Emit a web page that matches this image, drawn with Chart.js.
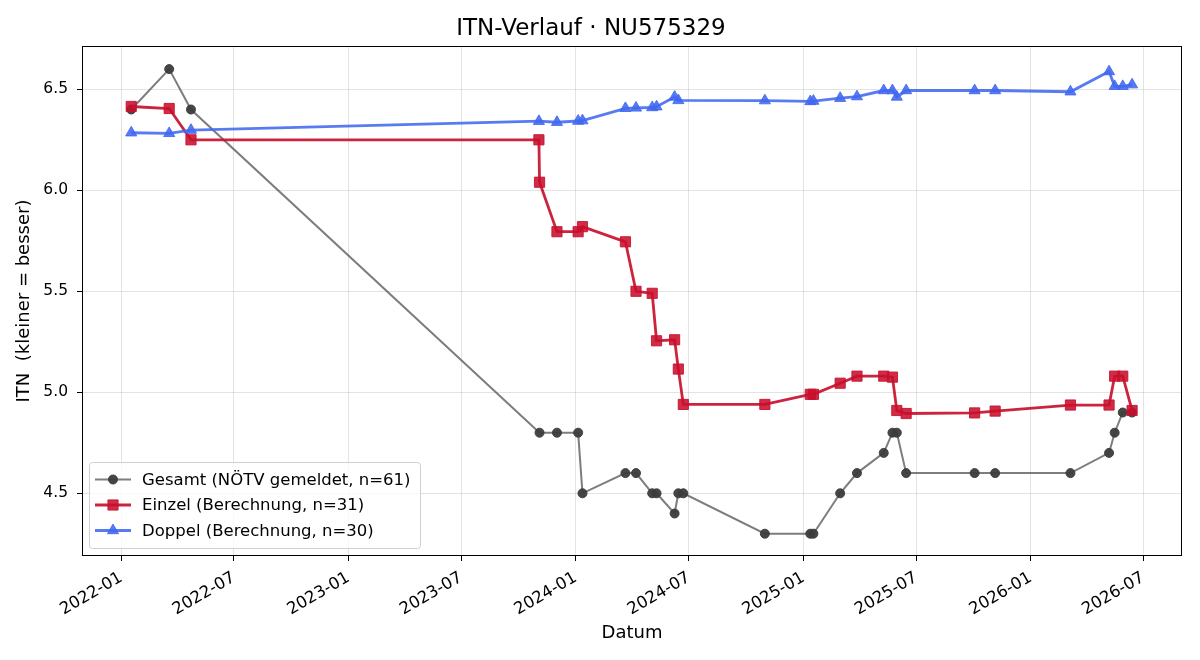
<!DOCTYPE html>
<html>
<head>
<meta charset="utf-8">
<script src="https://cdn.jsdelivr.net/npm/chart.js@4.4.1/dist/chart.umd.min.js"></script>
<style>
  html, body { margin: 0; padding: 0; background: #fff; }
</style>
</head>
<body>
<canvas id="itnChart" width="1200" height="660"></canvas>
<script>
// Daten
const gesamtDates = ['2022-01-17','2022-03-19','2022-04-23','2023-11-04','2023-12-02','2024-01-05','2024-01-12',
  '2024-03-21','2024-04-07','2024-05-03','2024-05-10','2024-06-08','2024-06-14','2024-06-22','2024-10-31',
  '2025-01-12','2025-01-17','2025-03-01','2025-03-28','2025-05-10','2025-05-24','2025-05-31','2025-06-15',
  '2025-10-03','2025-11-05','2026-03-06','2026-05-07','2026-05-16','2026-05-29','2026-06-13'];
const gesamtValues = [6.4, 6.6, 6.4, 4.8, 4.8, 4.8, 4.5,
  4.6, 4.6, 4.5, 4.5, 4.4, 4.5, 4.5, 4.3,
  4.3, 4.3, 4.5, 4.6, 4.7, 4.8, 4.8, 4.6,
  4.6, 4.6, 4.6, 4.7, 4.8, 4.9, 4.9];

const einzelDates = ['2022-01-17','2022-03-19','2022-04-23','2023-11-03','2023-11-04','2023-12-02','2024-01-05',
  '2024-01-12','2024-03-21','2024-04-07','2024-05-03','2024-05-10','2024-06-08','2024-06-14','2024-06-22',
  '2024-10-31','2025-01-12','2025-01-17','2025-03-01','2025-03-28','2025-05-10','2025-05-24','2025-05-31',
  '2025-06-15','2025-10-03','2025-11-05','2026-03-06','2026-05-07','2026-05-16','2026-05-29','2026-06-13'];
const einzelValues = [6.415, 6.405, 6.25, 6.25, 6.04, 5.795, 5.795,
  5.82, 5.745, 5.50, 5.49, 5.255, 5.26, 5.115, 4.94,
  4.94, 4.99, 4.99, 5.045, 5.08, 5.08, 5.075, 4.91,
  4.895, 4.898, 4.907, 4.937, 4.937, 5.08, 5.08, 4.91];

const doppelDates = ['2022-01-17','2022-03-19','2022-04-23','2023-11-03','2023-12-02','2024-01-05','2024-01-12',
  '2024-03-21','2024-04-07','2024-05-03','2024-05-10','2024-06-08','2024-06-14','2024-10-31','2025-01-12',
  '2025-01-17','2025-03-01','2025-03-28','2025-05-10','2025-05-24','2025-05-31','2025-06-15','2025-10-03',
  '2025-11-05','2026-03-06','2026-05-07','2026-05-16','2026-05-29','2026-06-13'];
const doppelValues = [6.285, 6.282, 6.298, 6.342, 6.337, 6.343, 6.345,
  6.406, 6.408, 6.41, 6.414, 6.462, 6.445, 6.444, 6.44,
  6.442, 6.456, 6.464, 6.494, 6.494, 6.462, 6.494, 6.494,
  6.494, 6.488, 6.588, 6.515, 6.515, 6.523];

const tickMonths = ['2022-01','2022-07','2023-01','2023-07','2024-01','2024-07','2025-01','2025-07','2026-01','2026-07'];
const yTicks = [4.5, 5.0, 5.5, 6.0, 6.5];

const labels = ['Gesamt (NÖTV gemeldet, n=61)', 'Einzel (Berechnung, n=31)', 'Doppel (Berechnung, n=30)'];

// Tage seit 2022-01-01
const base = Date.UTC(2022, 0, 1);
function toDay(s) {
  const p = s.split('-').map(Number);
  return (Date.UTC(p[0], p[1] - 1, p[2] || 1) - base) / 86400000;
}
function pts(dates, vals) {
  return dates.map((d, i) => ({ x: toDay(d), y: vals[i] }));
}

Chart.defaults.font.family = '"DejaVu Sans", sans-serif';
Chart.defaults.color = '#000';

const frameAndLegend = {
  id: 'frameAndLegend',
  afterDraw(chart) {
    const ctx = chart.ctx;
    const a = chart.chartArea;
    ctx.save();
    ctx.strokeStyle = '#000';
    ctx.lineWidth = 1;
    ctx.strokeRect(Math.round(a.left) + 0.5, Math.round(a.top) + 0.5, Math.round(a.right - a.left) - 1, Math.round(a.bottom - a.top) - 1);

    // Legende unten links
    const bx = 89.5, by = 462.5, bw = 331, bh = 86;
    ctx.fillStyle = 'rgba(255,255,255,0.8)';
    ctx.strokeStyle = '#d0d0d0';
    ctx.beginPath();
    ctx.roundRect(bx, by, bw, bh, 3);
    ctx.fill();
    ctx.stroke();

    ctx.font = '16.5px "DejaVu Sans"';
    ctx.textBaseline = 'middle';
    ctx.textAlign = 'left';
    chart.data.datasets.forEach((ds, i) => {
      const y = 479.5 + i * 25.5;
      ctx.strokeStyle = ds.borderColor;
      ctx.lineWidth = ds.borderWidth;
      ctx.beginPath();
      ctx.moveTo(95, y);
      ctx.lineTo(131, y);
      ctx.stroke();
      ctx.fillStyle = ds.pointBackgroundColor;
      ctx.strokeStyle = ds.pointBorderColor;
      ctx.lineWidth = 1;
      Chart.helpers.drawPoint(ctx, {
        pointStyle: ds.pointStyle, radius: ds.pointRadius, rotation: 0, borderWidth: 1
      }, 113, y);
      ctx.fillStyle = '#000';
      ctx.fillText(ds.label, 142, y + 1);
    });
    ctx.restore();
  }
};

new Chart(document.getElementById('itnChart'), {
  type: 'line',
  data: {
    datasets: [{
      label: labels[0],
      data: pts(gesamtDates, gesamtValues),
      borderColor: 'rgba(70,70,70,0.7)',
      borderWidth: 2,
      pointStyle: 'circle',
      pointRadius: 4.5,
      pointBackgroundColor: 'rgba(60,60,60,0.95)',
      pointBorderColor: 'rgba(60,60,60,0.95)',
      pointBorderWidth: 1,
      tension: 0,
      order: 2
    }, {
      label: labels[1],
      data: pts(einzelDates, einzelValues),
      borderColor: 'rgba(200,16,46,0.92)',
      borderWidth: 2.8,
      pointStyle: 'rect',
      pointRadius: 7.2,
      pointBackgroundColor: 'rgba(200,16,46,0.88)',
      pointBorderColor: 'rgba(200,16,46,0.88)',
      pointBorderWidth: 1,
      tension: 0,
      order: 1
    }, {
      label: labels[2],
      data: pts(doppelDates, doppelValues),
      borderColor: 'rgba(65,105,240,0.88)',
      borderWidth: 2.8,
      pointStyle: 'triangle',
      pointRadius: 6.4,
      pointBackgroundColor: 'rgba(65,105,240,0.88)',
      pointBorderColor: 'rgba(65,105,240,0.88)',
      pointBorderWidth: 1,
      tension: 0,
      order: 0
    }]
  },
  options: {
    responsive: false,
    animation: false,
    layout: { padding: { left: 0, right: 18, top: 0, bottom: 0 } },
    plugins: {
      legend: { display: false },
      tooltip: { enabled: false },
      title: {
        display: true,
        text: 'ITN-Verlauf · NU575329',
        color: '#000',
        font: { size: 23, weight: 'normal' },
        padding: { top: 15, bottom: 3.4 }
      }
    },
    scales: {
      x: {
        type: 'linear',
        min: -63.1,
        max: 1704.2,
        afterBuildTicks: s => { s.ticks = tickMonths.map(m => ({ value: toDay(m) })); },
        afterFit: s => { s.height = 104; },
        ticks: {
          autoSkip: false,
          minRotation: 30,
          maxRotation: 30,
          padding: 7,
          font: { size: 16.5 },
          color: '#000',
          callback: v => tickMonths.find(m => toDay(m) === v)
        },
        grid: { color: 'rgba(176,176,176,0.35)', tickColor: '#000', tickLength: 5 },
        border: { display: false },
        title: { display: true, text: 'Datum', color: '#000', font: { size: 18 }, padding: { top: 4, bottom: 16 } }
      },
      y: {
        type: 'linear',
        min: 4.1896,
        max: 6.7144,
        afterBuildTicks: s => { s.ticks = yTicks.map(v => ({ value: v })); },
        afterFit: s => { s.width = 82; },
        ticks: {
          padding: 9,
          font: { size: 15.5 },
          color: '#000',
          callback: v => v.toFixed(1)
        },
        grid: { color: 'rgba(176,176,176,0.35)', tickColor: '#000', tickLength: 5 },
        border: { display: false },
        title: { display: true, text: 'ITN  (kleiner = besser)', color: '#000', font: { size: 18 }, padding: { top: 14, bottom: 0 } }
      }
    }
  },
  plugins: [frameAndLegend]
});
</script>
</body>
</html>
